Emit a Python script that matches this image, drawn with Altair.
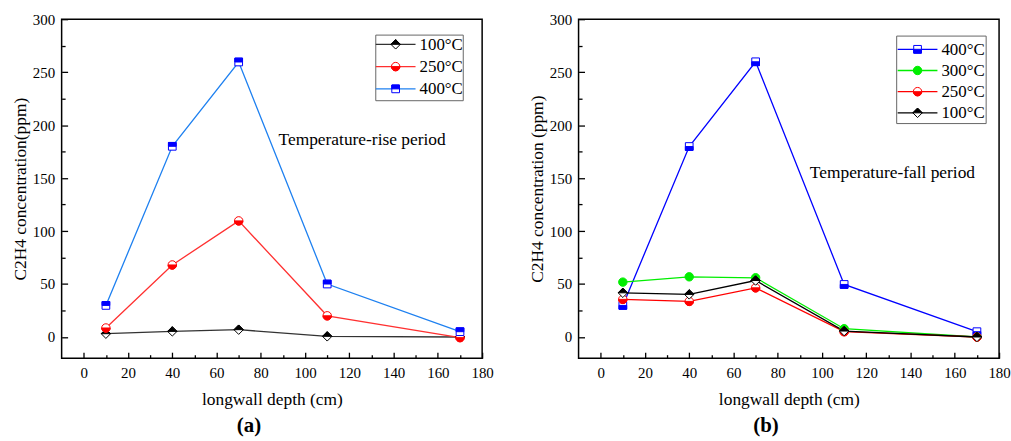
import altair as alt
import pandas as pd

FONT = "Liberation Serif"

depth = [10, 40, 70, 110, 170]

rise_names = ["100°C", "250°C", "400°C"]
rise_100 = [3.1, 5.3, 6.9, 0.6, 0]
rise_250 = [8.5, 68, 109.6, 20, -0.6]
rise_400 = [29.8, 180, 259.6, 50, 5]

fall_names = ["400°C", "300°C", "250°C", "100°C"]
fall_400 = [29.8, 179.8, 259.8, 49.6, 5]
fall_300 = [51.8, 56.8, 55.9, 7.8, 0]
fall_250 = [35.5, 33.6, 46.4, 5, 0]
fall_100 = [41.7, 40.2, 53.3, 5.6, 0]

x_major = [0, 20, 40, 60, 80, 100, 120, 140, 160, 180]
x_minor = [10, 30, 50, 70, 90, 110, 130, 150, 170]
y_major = [0, 50, 100, 150, 200, 250, 300]
y_minor = [25, 75, 125, 175, 225, 275]

# marker shapes (unit square -1..1)
SQ = "M-1,-1L1,-1L1,1L-1,1Z"
SQ_TOP = "M-1,-1L1,-1L1,0L-1,0Z"
SQ_BOT = "M-1,0L1,0L1,1L-1,1Z"
CI = "circle"
CI_BOT = "M-1,0A1,1,0,0,0,1,0Z"
DI = "M-1,0L0,-1L1,0L0,1Z"
DI_TOP = "M-1,0L0,-1L1,0Z"

xs = alt.Scale(domain=[-10, 180], nice=False, zero=False)
ys = alt.Scale(domain=[-20, 300], nice=False, zero=False)

AX = dict(labelFont=FONT, labelFontSize=15, labelColor="black",
          titleFont=FONT, titleFontSize=17.5, titleFontWeight="normal",
          titleColor="black", grid=False, domain=False)

ONE = pd.DataFrame({"k": [0]})


def panel(names, values, line_colors, mark_colors, outlines, outline_fills,
          halves, sizes, note_text, note_x, note_y, ytitle, caption, lg):
    rows = []
    for n, vals in zip(names, values):
        for d, v in zip(depth, vals):
            rows.append({"depth": d, "value": v, "series": n})
    df = pd.DataFrame(rows)
    base = alt.Chart(df)

    lab_x = alt.Axis(orient="bottom", values=x_major, ticks=False, tickSize=0,
                     labelPadding=7, format="d", labelFlush=False,
                     title="longwall depth (cm)", titlePadding=11, **AX)
    lab_y = alt.Axis(orient="left", values=y_major, ticks=False, tickSize=0,
                     labelPadding=7, format="d", labelFlush=False,
                     title=ytitle, titlePadding=3, **AX)
    lines = base.mark_line(strokeWidth=1.3).encode(
        x=alt.X("depth:Q", scale=xs, axis=lab_x),
        y=alt.Y("value:Q", scale=ys, axis=lab_y),
        color=alt.Color("series:N", scale=alt.Scale(domain=names, range=line_colors), legend=None),
    )

    def tick_layer(xv, yv, size):
        return base.mark_point(opacity=0).encode(
            x=alt.X("depth:Q", scale=xs, axis=alt.Axis(
                orient="bottom", values=xv, offset=-size, tickSize=size, labels=False,
                title=None, tickColor="black", tickWidth=1.3, grid=False, domain=False)),
            y=alt.Y("value:Q", scale=ys, axis=alt.Axis(
                orient="left", values=yv, offset=-size, tickSize=size, labels=False,
                title=None, tickColor="black", tickWidth=1.3, grid=False, domain=False)),
        )

    major = tick_layer(x_major, y_major, 6)
    minor = tick_layer(x_minor, y_minor, 3.5)

    marks = []
    for n, mc, o, of, h, s in zip(names, mark_colors, outlines, outline_fills, halves, sizes):
        sub = base.transform_filter(alt.datum.series == n)
        marks.append(sub.mark_point(shape=o, size=s, filled=True, fill=of, stroke=mc,
                                    strokeWidth=1, opacity=1).encode(
            x=alt.X("depth:Q", scale=xs, axis=None),
            y=alt.Y("value:Q", scale=ys, axis=None)))
        if h:
            marks.append(sub.mark_point(shape=h, size=s, filled=True, fill=mc, stroke=mc,
                                        strokeWidth=1, opacity=1).encode(
                x=alt.X("depth:Q", scale=xs, axis=None),
                y=alt.Y("value:Q", scale=ys, axis=None)))

    note = alt.Chart(pd.DataFrame({"x": [note_x], "y": [note_y], "t": [note_text]})).mark_text(
        align="left", baseline="middle", font=FONT, fontSize=17.5, color="black"
    ).encode(
        x=alt.X("x:Q", scale=xs, axis=None),
        y=alt.Y("y:Q", scale=ys, axis=None),
        text="t:N",
    )

    # legend drawn as its own small marks (box, line, marker, label per row)
    leg = [alt.Chart(ONE).mark_rect(fill="white", stroke="#666666", strokeWidth=1).encode(
        x=alt.value(lg["x0"]), x2=alt.value(lg["x1"]),
        y=alt.value(lg["y0"]), y2=alt.value(lg["y1"]))]
    for i, (n, lc, mc, o, of, h, s) in enumerate(
            zip(names, line_colors, mark_colors, outlines, outline_fills, halves, sizes)):
        ry = lg["r0"] + lg["dy"] * i
        leg.append(alt.Chart(ONE).mark_rule(color=lc, strokeWidth=1.3).encode(
            x=alt.value(lg["lx"]), x2=alt.value(lg["lx"] + 40), y=alt.value(ry)))
        mx = lg["lx"] + 20
        leg.append(alt.Chart(ONE).mark_point(shape=o, size=s, filled=True, fill=of, stroke=mc,
                                             strokeWidth=1, opacity=1).encode(
            x=alt.value(mx), y=alt.value(ry)))
        if h:
            leg.append(alt.Chart(ONE).mark_point(shape=h, size=s, filled=True, fill=mc, stroke=mc,
                                                 strokeWidth=1, opacity=1).encode(
                x=alt.value(mx), y=alt.value(ry)))
        leg.append(alt.Chart(ONE).mark_text(text=n, align="left", baseline="middle", font=FONT,
                                            fontSize=17, color="black").encode(
            x=alt.value(lg["tx"]), y=alt.value(ry + 0.5)))

    return alt.layer(lines, major, minor, *marks, note, *leg).resolve_axis(
        x="independent", y="independent"
    ).properties(
        width=423, height=341,
        title=alt.TitleParams(caption, orient="bottom", font=FONT, fontSize=21,
                              fontWeight="bold", offset=7, anchor="middle",
                              dx=-23, color="black"),
    )


left = panel(
    rise_names, [rise_100, rise_250, rise_400],
    line_colors=["#333333", "#ff3030", "#1e80f0"],
    mark_colors=["#000000", "#ff0000", "#0000ff"],
    outlines=[DI, CI, SQ], outline_fills=["white", "white", "white"],
    halves=[DI_TOP, CI_BOT, SQ_TOP], sizes=[90, 72, 60],
    note_text="Temperature-rise period", note_x=88, note_y=186,
    ytitle="C2H4 concentration(ppm)", caption="(a)",
    lg=dict(x0=316, x1=404, y0=16, y1=82, r0=25.3, dy=22.4, lx=316, tx=360),
)

right = panel(
    fall_names, [fall_400, fall_300, fall_250, fall_100],
    line_colors=["#0000ff", "#00ee00", "#ff0000", "#000000"],
    mark_colors=["#0000ff", "#00ee00", "#ff0000", "#000000"],
    outlines=[SQ, CI, CI, DI], outline_fills=["white", "#00ee00", "white", "white"],
    halves=[SQ_BOT, None, CI_BOT, DI_TOP], sizes=[60, 72, 72, 90],
    note_text="Temperature-fall period", note_x=94.5, note_y=155,
    ytitle="C2H4 concentration (ppm)", caption="(b)",
    lg=dict(x0=320, x1=410, y0=17, y1=105, r0=30.3, dy=21.3, lx=321, tx=365),
)

chart = alt.hconcat(left, right, spacing=33).resolve_scale(
    color="independent"
).configure(
    font=FONT
).configure_view(
    stroke="black", strokeWidth=1.5
).properties(
    padding={"left": 10, "top": 10, "right": 0, "bottom": 0},
    background="white",
)

chart.save("out.html", embed_options={"renderer": "svg", "actions": False})
